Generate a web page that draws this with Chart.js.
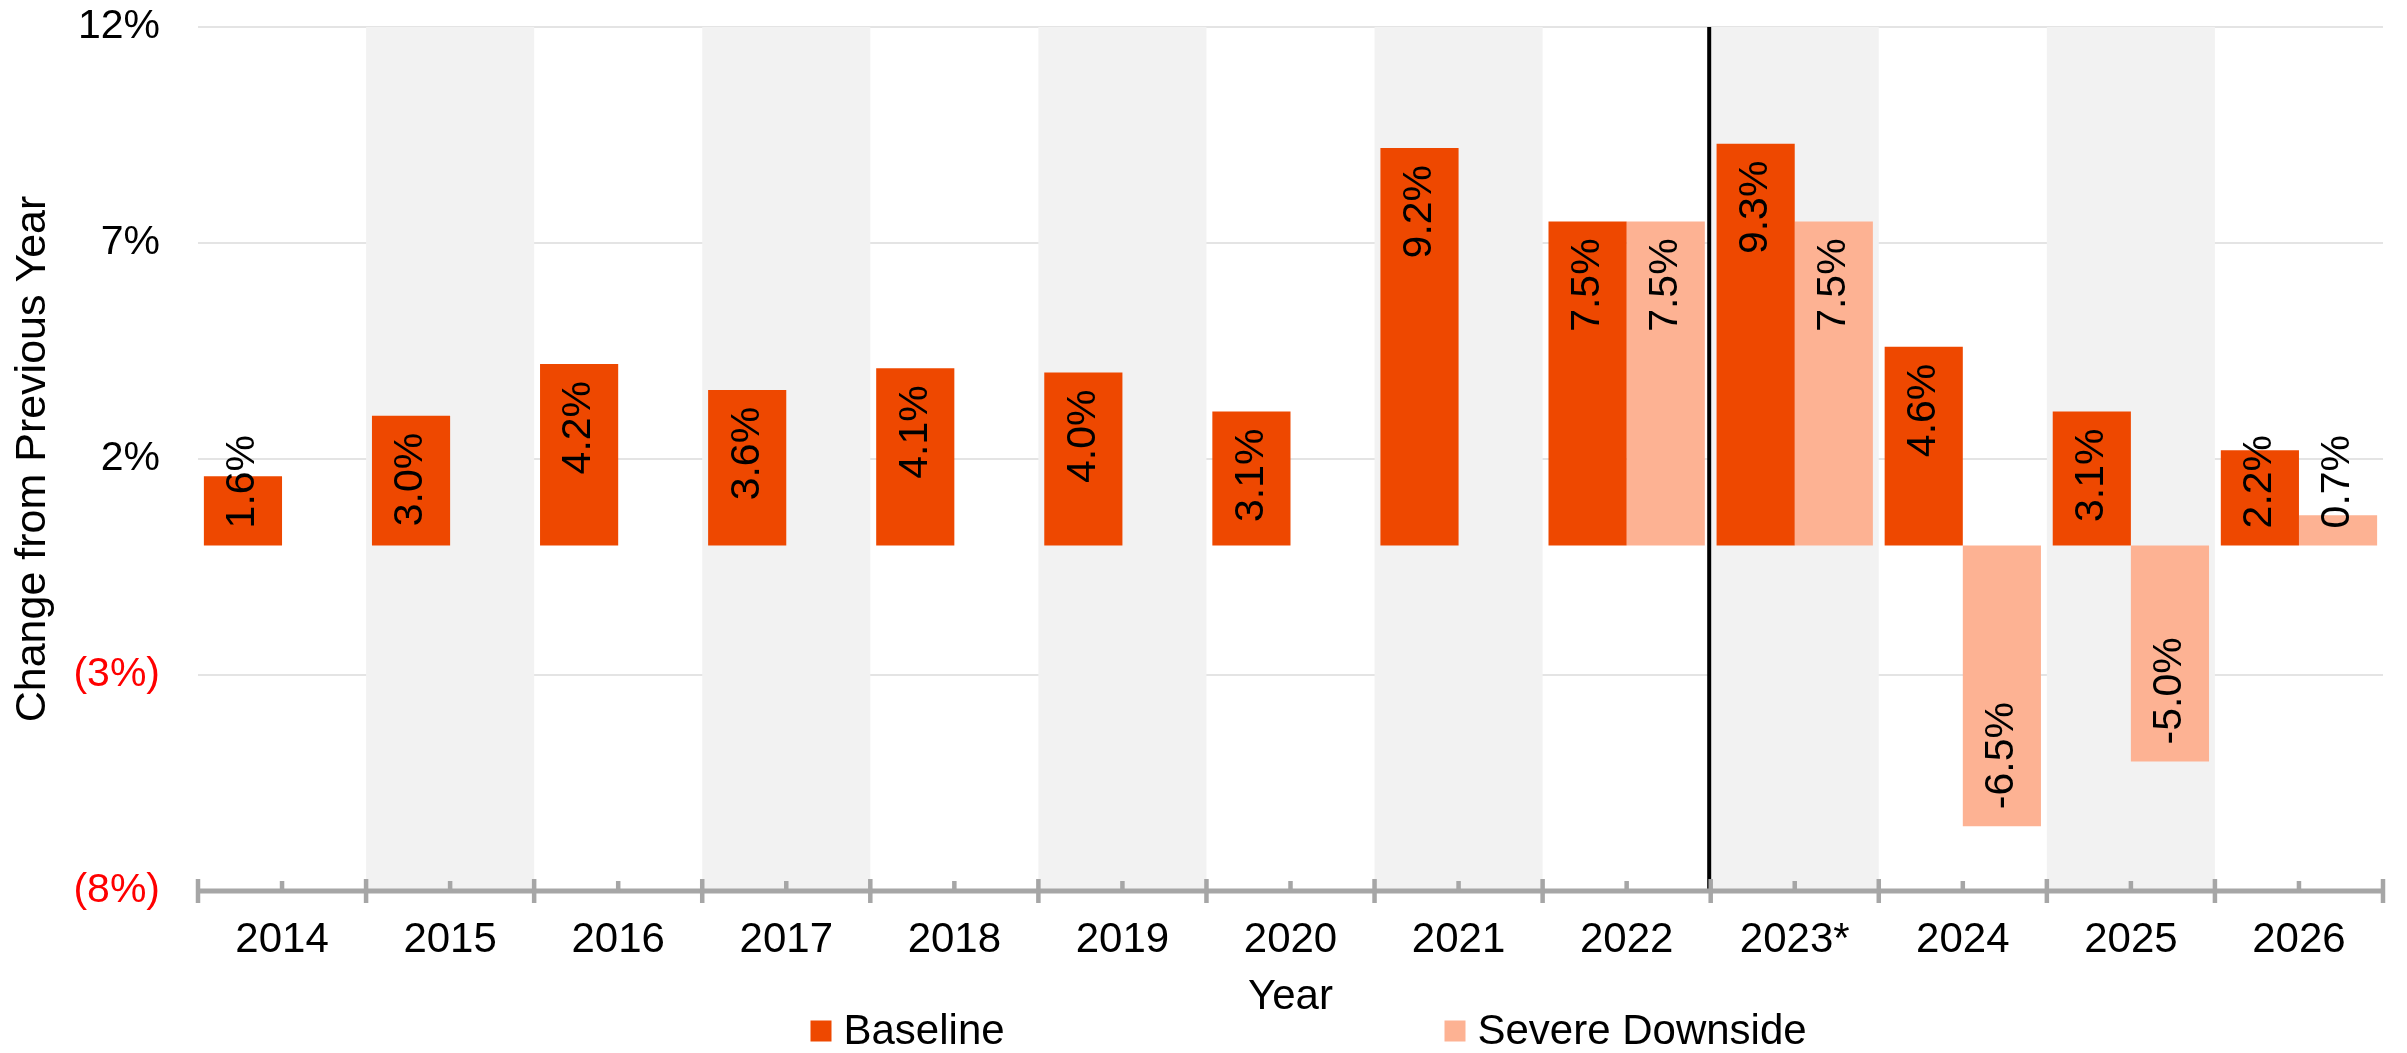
<!DOCTYPE html>
<html>
<head>
<meta charset="utf-8">
<script src="https://cdn.jsdelivr.net/npm/chart.js@4.4.1/dist/chart.umd.min.js"></script>
<style>
  html, body { margin: 0; padding: 0; background: #fff; }
  #wrap { width: 2407px; height: 1053px; position: relative; }
</style>
</head>
<body>
<div id="wrap"><canvas id="growthChart"></canvas></div>
<script>
const years = ['2014', '2015', '2016', '2017', '2018', '2019', '2020', '2021', '2022', '2023*', '2024', '2025', '2026'];
const baseline = [1.6, 3.0, 4.2, 3.6, 4.1, 4.0, 3.1, 9.2, 7.5, 9.3, 4.6, 3.1, 2.2];
const severeDownside = [null, null, null, null, null, null, null, null, 7.5, 7.5, -6.5, -5.0, 0.7];
const yTicks = [-8, -3, 2, 7, 12];
const forecastStart = '2023*';

const FONT = 'Liberation Sans, Arial, sans-serif';
const ORANGE = 'rgb(238, 72, 0)';
const SALMON = 'rgb(253, 178, 147)';
const AXIS_GREY = '#a6a6a6';

// grey bands behind every other year
const bandsPlugin = {
    id: 'bands',
    beforeDatasetsDraw(chart) {
        const { ctx, chartArea, scales } = chart;
        const x = scales.x;
        const w = x.getPixelForValue(1) - x.getPixelForValue(0);
        ctx.save();
        ctx.fillStyle = '#f2f2f2';
        years.forEach((y, i) => {
            if (i % 2 === 1) {
                const cx = x.getPixelForValue(i);
                ctx.fillRect(cx - w / 2, chartArea.top, w, chartArea.bottom - chartArea.top);
            }
        });
        ctx.restore();
    }
};

// value labels written sideways inside the bars
const barLabelsPlugin = {
    id: 'barLabels',
    afterDatasetsDraw(chart) {
        const { ctx } = chart;
        const pad = 17;
        ctx.save();
        ctx.font = '41px ' + FONT;
        ctx.fillStyle = '#000';
        ctx.textBaseline = 'middle';
        chart.data.datasets.forEach((ds, di) => {
            const meta = chart.getDatasetMeta(di);
            meta.data.forEach((bar, i) => {
                const v = ds.data[i];
                if (v === null || v === undefined) return;
                const text = v.toFixed(1) + '%';
                const tw = ctx.measureText(text).width;
                const len = Math.abs(bar.base - bar.y);
                let anchorY, align;
                if (v < 0) {
                    anchorY = bar.y - pad;
                    align = 'left';
                } else if (len >= tw + 2 * pad) {
                    anchorY = bar.y + pad;
                    align = 'right';
                } else {
                    anchorY = bar.base - pad;
                    align = 'left';
                }
                ctx.save();
                ctx.translate(bar.x, anchorY);
                ctx.rotate(-Math.PI / 2);
                ctx.textAlign = align;
                ctx.fillText(text, 0, 0);
                ctx.restore();
            });
        });
        ctx.restore();
    }
};

// forecast divider and the x axis with its tick marks
const axisPlugin = {
    id: 'xAxisLine',
    afterDatasetsDraw(chart) {
        const { ctx, chartArea, scales } = chart;
        const x = scales.x;
        const w = x.getPixelForValue(1) - x.getPixelForValue(0);
        const axisY = chartArea.bottom;
        ctx.save();

        const splitX = x.getPixelForValue(years.indexOf(forecastStart)) - w / 2 - 1.5;
        ctx.strokeStyle = '#000';
        ctx.lineWidth = 4;
        ctx.beginPath();
        ctx.moveTo(splitX, chartArea.top);
        ctx.lineTo(splitX, axisY);
        ctx.stroke();

        ctx.strokeStyle = AXIS_GREY;
        ctx.lineWidth = 5;
        ctx.beginPath();
        ctx.moveTo(chartArea.left, axisY);
        ctx.lineTo(chartArea.right, axisY);
        ctx.stroke();

        ctx.lineWidth = 4.5;
        ctx.beginPath();
        for (let i = 0; i <= years.length; i++) {
            const bx = x.getPixelForValue(0) - w / 2 + i * w;
            ctx.moveTo(bx, axisY - 12);
            ctx.lineTo(bx, axisY + 12);
        }
        years.forEach((y, i) => {
            const cx = x.getPixelForValue(i);
            ctx.moveTo(cx, axisY - 10);
            ctx.lineTo(cx, axisY);
        });
        ctx.stroke();
        ctx.restore();
    }
};

// legend under the axis title
const legendPlugin = {
    id: 'bottomLegend',
    afterDraw(chart) {
        const { ctx, chartArea } = chart;
        const cx = (chartArea.left + chartArea.right) / 2;
        const cy = 1031;
        const items = [
            { label: 'Baseline', color: ORANGE, x: cx - 480 },
            { label: 'Severe Downside', color: SALMON, x: cx + 154 }
        ];
        ctx.save();
        ctx.font = '42px ' + FONT;
        ctx.textBaseline = 'middle';
        ctx.textAlign = 'left';
        items.forEach(it => {
            ctx.fillStyle = it.color;
            ctx.fillRect(it.x, cy - 10.5, 21, 21);
            ctx.fillStyle = '#000';
            ctx.fillText(it.label, it.x + 33, cy + 1);
        });
        ctx.restore();
    }
};

const ctx = document.getElementById('growthChart').getContext('2d');
new Chart(ctx, {
    type: 'bar',
    data: {
        labels: years,
        datasets: [{
            label: 'Baseline',
            data: baseline,
            backgroundColor: ORANGE,
            borderWidth: 0
        }, {
            label: 'Severe Downside',
            data: severeDownside,
            backgroundColor: SALMON,
            borderWidth: 0
        }]
    },
    options: {
        responsive: true,
        maintainAspectRatio: false,
        animation: false,
        categoryPercentage: 0.93,
        barPercentage: 1.0,
        layout: {
            padding: { top: 27, right: 24, bottom: 30, left: 0 }
        },
        plugins: {
            legend: { display: false },
            tooltip: { enabled: false }
        },
        scales: {
            x: {
                offset: true,
                afterFit(scale) {
                    scale.height = 132;
                },
                grid: { display: false, drawTicks: false },
                border: { display: false },
                ticks: {
                    color: '#000',
                    font: { family: FONT, size: 42 },
                    padding: 24,
                    maxRotation: 0
                },
                title: {
                    display: true,
                    text: 'Year',
                    color: '#000',
                    font: { family: FONT, size: 42 },
                    padding: { top: 7, bottom: 0 }
                }
            },
            y: {
                min: -8,
                max: 12,
                afterBuildTicks(scale) {
                    scale.ticks = yTicks.map(v => ({ value: v }));
                },
                afterFit(scale) {
                    scale.width = 198;
                    scale.paddingTop = 0;
                    scale.paddingBottom = 0;
                },
                grid: {
                    color: '#e4e4e4',
                    lineWidth: 2,
                    drawTicks: false
                },
                border: { display: false },
                ticks: {
                    padding: 38,
                    font: { family: FONT, size: 41 },
                    color: c => c.tick.value < 0 ? '#ff0000' : '#000',
                    callback: v => v < 0 ? '(' + Math.abs(v) + '%)' : v + '%'
                },
                title: {
                    display: true,
                    text: 'Change from Previous Year',
                    color: '#000',
                    font: { family: FONT, size: 43 },
                    padding: { top: 7, bottom: 0 }
                }
            }
        }
    },
    plugins: [bandsPlugin, barLabelsPlugin, axisPlugin, legendPlugin]
});
</script>
</body>
</html>
